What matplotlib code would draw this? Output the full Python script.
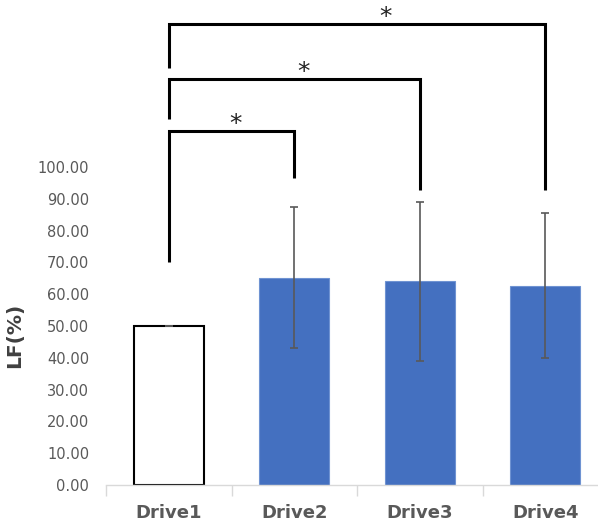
import matplotlib.pyplot as plt
import numpy as np

# data
drives = ["Drive1", "Drive2", "Drive3", "Drive4"]
lf_mean = [50.0, 65.2, 64.0, 62.7]
lf_sd = [0.0, 22.2, 25.0, 22.9]
y_ticks = [0, 10, 20, 30, 40, 50, 60, 70, 80, 90, 100]

# significance brackets: (left, right, top, left leg bottom, right leg bottom, star x, star y)
brackets = [
    (0, 1, 111.4, 70.2, 96.5, 0.53, 113.6),
    (0, 2, 127.7, 115.1, 92.8, 1.07, 129.8),
    (0, 3, 144.9, 131.0, 92.8, 1.73, 147.0),
]

fig = plt.figure(figsize=(5.98, 5.31), dpi=100)
ax = fig.add_axes([106 / 598, 46 / 531, 502 / 598, 485 / 531])

x = np.arange(len(drives))
colors = ["white", "#4470C0", "#4470C0", "#4470C0"]
edges = ["black", "#6f93d2", "#6f93d2", "#6f93d2"]
lws = [1.5, 0.8, 0.8, 0.8]
ax.bar(x, lf_mean, width=0.56, color=colors, edgecolor=edges, linewidth=lws, zorder=2)
ax.errorbar(x, lf_mean, yerr=lf_sd, fmt="none", ecolor="#595959",
            elinewidth=1.2, capsize=3.2, capthick=1.2, zorder=3)

for left, right, top, lb, rb, sx, sy in brackets:
    ax.plot([left, left, right, right], [lb, top, top, rb], color="black",
            lw=2.2, solid_capstyle="butt", solid_joinstyle="miter", clip_on=False)
    ax.text(sx, sy, "*", fontsize=18, ha="center", va="center", color="#222222")

ax.set_xlim(-0.5, 3.5)
ax.set_ylim(0, 152.5)
ax.set_yticks(y_ticks)
ax.set_yticklabels([f"{v:.2f}" for v in y_ticks], fontsize=10.5, color="#595959")
ax.tick_params(axis="y", length=0, pad=12)

ax.set_xticks(x)
ax.set_xticklabels(drives, fontsize=13, fontweight="bold", color="#595959")
ax.set_xticks([-0.5, 0.5, 1.5, 2.5, 3.5], minor=True)
ax.tick_params(axis="x", which="major", length=0, pad=14)
ax.tick_params(axis="x", which="minor", length=8, color="#d9d9d9", width=1)

for s in ["top", "right", "left"]:
    ax.spines[s].set_visible(False)
ax.spines["bottom"].set_color("#d9d9d9")
ax.spines["bottom"].set_linewidth(1)

ax.set_ylabel("LF(%)", fontsize=14.5, fontweight="bold", color="#404040")
ax.yaxis.set_label_coords(-0.163, 0.309)

fig.savefig("out.png", dpi=100)
